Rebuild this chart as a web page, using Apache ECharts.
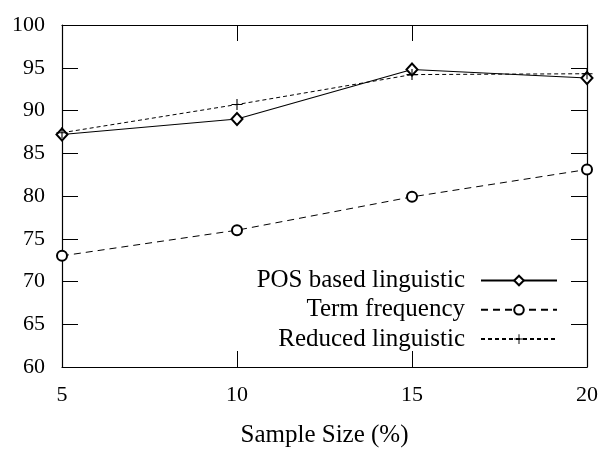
<!DOCTYPE html>
<html>
<head>
<meta charset="utf-8">
<script src="https://cdn.jsdelivr.net/npm/echarts@6/dist/echarts.min.js"></script>
<style>html,body{margin:0;padding:0;background:#fff;}#c{width:604px;height:453px;}</style>
</head>
<body>
<div id="c"></div>
<script>
const sampleSizes = [5, 10, 15, 20];
const posBased = [87.2, 89.0, 94.8, 93.8];
const termFreq = [73.0, 76.0, 79.9, 83.1];
const reduced = [87.4, 90.7, 94.2, 94.3];
const seriesNames = ['POS based linguistic', 'Term frequency', 'Reduced linguistic'];
const xTicks = [5, 10, 15, 20];
const yTicks = [60, 65, 70, 75, 80, 85, 90, 95, 100];

const FONT = '"Liberation Serif", "DejaVu Serif", serif';
const chart = echarts.init(document.getElementById('c'), null, {renderer: 'canvas'});
const pair = (ys) => sampleSizes.map((x, i) => [x, ys[i]]);
const plusPath = 'path://M4.5,0H5.5V10H4.5ZM0,4.5H10V5.5H0Z';

const tickStyle = {show: true, inside: true, length: 16, lineStyle: {color: '#000', width: 1}};
const lineAxis = {show: true, lineStyle: {color: '#000', width: 1.2}};

chart.setOption({
  animation: false,
  backgroundColor: '#fff',
  grid: {left: 62, right: 17, top: 25, bottom: 84.5, containLabel: false},
  legend: {
    orient: 'vertical',
    right: 46,
    top: 268,
    padding: 0,
    align: 'right',
    itemWidth: 76,
    itemHeight: 12,
    itemGap: 4.3,
    data: seriesNames,
    textStyle: {fontFamily: FONT, fontSize: 25, color: '#000', lineHeight: 24, padding: [0, 11, 0, 0]}
  },
  xAxis: [{
    type: 'value', min: 5, max: 20, interval: 5, position: 'bottom',
    name: 'Sample Size (%)', nameLocation: 'middle', nameGap: 56,
    nameTextStyle: {fontFamily: FONT, fontSize: 25, color: '#000'},
    axisLine: lineAxis, axisTick: tickStyle,
    axisLabel: {fontFamily: FONT, fontSize: 22, color: '#000', margin: 17,
      formatter: (v) => xTicks.includes(v) ? String(v) : ''},
    splitLine: {show: false}
  }, {
    type: 'value', min: 5, max: 20, interval: 5, position: 'top',
    axisLine: lineAxis, axisTick: tickStyle, axisLabel: {show: false}, splitLine: {show: false}
  }],
  yAxis: [{
    type: 'value', min: 60, max: 100, interval: 5, position: 'left',
    axisLine: lineAxis, axisTick: tickStyle,
    axisLabel: {fontFamily: FONT, fontSize: 22, color: '#000', margin: 17,
      formatter: (v) => yTicks.includes(v) ? String(v) : ''},
    splitLine: {show: false}
  }, {
    type: 'value', min: 60, max: 100, interval: 5, position: 'right',
    axisLine: lineAxis, axisTick: tickStyle, axisLabel: {show: false}, splitLine: {show: false}
  }],
  series: [{
    name: seriesNames[0], type: 'line', data: pair(posBased),
    symbol: 'emptyDiamond', symbolSize: [11, 12], showAllSymbol: true,
    lineStyle: {color: '#000', width: 1.1, type: 'solid'},
    itemStyle: {color: '#000', borderColor: '#000', borderWidth: 1}
  }, {
    name: seriesNames[1], type: 'line', data: pair(termFreq),
    symbol: 'emptyCircle', symbolSize: 10, showAllSymbol: true,
    lineStyle: {color: '#000', width: 1, type: [7, 5]},
    itemStyle: {color: '#000', borderColor: '#000', borderWidth: 1}
  }, {
    name: seriesNames[2], type: 'line', data: pair(reduced),
    symbol: plusPath, symbolSize: 11, showAllSymbol: true,
    lineStyle: {color: '#000', width: 1, type: [4, 3]},
    itemStyle: {color: '#000'}
  }]
});
</script>
</body>
</html>
